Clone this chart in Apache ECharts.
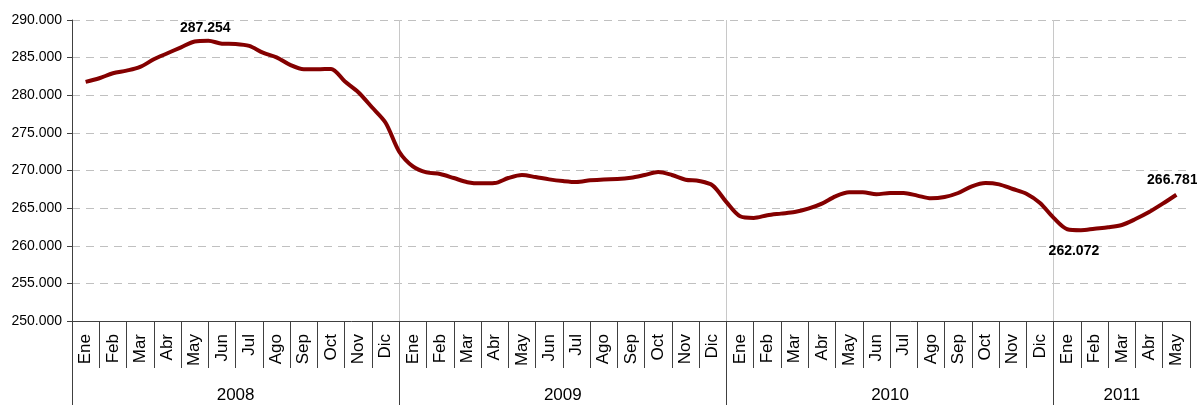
<!DOCTYPE html>
<html>
<head>
<meta charset="utf-8">
<script src="https://cdn.jsdelivr.net/npm/echarts@6/dist/echarts.min.js"></script>
<style>
  html, body { margin: 0; padding: 0; background: #fff; }
  #chart { width: 1197px; height: 405px; }
</style>
</head>
<body>
<div id="chart"></div>
<script>
// month names and years shown under the axis
var months = ['Ene', 'Feb', 'Mar', 'Abr', 'May', 'Jun', 'Jul', 'Ago', 'Sep', 'Oct', 'Nov', 'Dic']
var years = ['2008', '2009', '2010', '2011']
var monthsPerYear = [12, 12, 12, 5]

// series, one value every half month (thousands)
var values = [
  281.77, 282.26, 282.92, 283.27, 283.76, 284.78, 285.58, 286.37, 287.15, 287.254,
  286.85, 286.81, 286.55, 285.66, 285.04, 284.03, 283.45, 283.45, 283.5, 281.85,
  280.4, 278.4, 276.35, 272.5, 270.55, 269.75, 269.53, 269.0, 268.45, 268.29,
  268.33, 269.0, 269.4, 269.13, 268.82, 268.6, 268.47, 268.69, 268.82, 268.86,
  269.04, 269.4, 269.79, 269.4, 268.78, 268.6, 268.0, 265.8, 263.92, 263.7,
  264.05, 264.27, 264.49, 264.93, 265.6, 266.57, 267.1, 267.1, 266.84, 267.01,
  267.01, 266.66, 266.3, 266.48, 267.01, 267.9, 268.34, 268.16, 267.54, 266.92,
  265.68, 263.7, 262.2, 262.072, 262.27, 262.45, 262.76, 263.55, 264.48, 265.59,
  266.781
]
// which points carry a value label
var labelled = [9, 73, 80]

var yTicks = { min: 250, max: 290, step: 5 }

// month categories (one per month)
var monthCats = []
monthsPerYear.forEach(function (n) {
  for (var i = 0; i < n; i++) monthCats.push(months[i])
})

// half-month positions for the line and the year row
var halfCats = []
for (var i = 0; i <= monthCats.length * 2; i++) halfCats.push('')
var yearEdges = {}
var start = 0
monthsPerYear.forEach(function (n, i) {
  yearEdges[start * 2] = true
  halfCats[start * 2 + n] = years[i]
  start += n
})

// label placement for the peak, the low and the last point
var labelStyle = [
  { position: 'top', distance: 6, offset: [-3, 0] },
  { position: 'bottom', distance: 6, offset: [-7, 8] },
  { position: 'top', distance: 6, offset: [-4, -2] }
]

var lineData = [null]
values.forEach(function (v, i) {
  var item = { value: v }
  var pos = labelled.indexOf(i)
  if (pos >= 0) {
    item.label = Object.assign({ show: true }, labelStyle[pos])
  }
  lineData.push(item)
})
lineData.push(null)

var font = 'Arial, "Liberation Sans", sans-serif'

var chart = echarts.init(document.getElementById('chart'))
var option = {
  backgroundColor: '#fff',
  animation: false,
  grid: { left: 72, right: 7, top: 20, bottom: 84 },
  xAxis: [
    {
      type: 'category',
      data: monthCats,
      position: 'bottom',
      boundaryGap: true,
      axisLine: { show: true, lineStyle: { color: '#404040', width: 1 } },
      axisTick: { show: true, interval: 0, length: 47, lineStyle: { color: '#404040' } },
      axisLabel: {
        interval: 0,
        rotate: 90,
        margin: 13,
        color: '#000',
        fontSize: 17,
        fontFamily: font
      },
      splitLine: { show: false }
    },
    {
      type: 'category',
      data: halfCats,
      position: 'bottom',
      offset: 47,
      boundaryGap: false,
      axisLine: { show: false },
      axisTick: {
        show: true,
        length: 37,
        interval: function (idx) { return !!yearEdges[idx] },
        lineStyle: { color: '#404040' }
      },
      axisLabel: {
        interval: 0,
        margin: 19,
        color: '#000',
        fontSize: 17,
        fontFamily: font
      },
      splitLine: {
        show: true,
        interval: function (idx) { return !!yearEdges[idx] && idx > 0 },
        lineStyle: { color: '#c8c8c8', width: 1 }
      }
    }
  ],
  yAxis: {
    type: 'value',
    min: yTicks.min,
    max: yTicks.max,
    interval: yTicks.step,
    axisLine: { show: true, lineStyle: { color: '#404040' } },
    axisTick: { show: true, inside: false, length: 5, lineStyle: { color: '#404040' } },
    axisLabel: {
      margin: 10,
      color: '#000',
      fontSize: 14,
      fontFamily: font,
      formatter: function (v) { return v.toFixed(3) }
    },
    splitLine: {
      show: true,
      lineStyle: { color: '#c0c0c0', type: [8, 6], width: 1 }
    }
  },
  series: [
    {
      type: 'line',
      xAxisIndex: 1,
      data: lineData,
      smooth: 0.3,
      showSymbol: true,
      showAllSymbol: true,
      symbol: 'circle',
      symbolSize: 0,
      connectNulls: false,
      lineStyle: { color: '#840000', width: 4 },
      itemStyle: { color: '#840000' },
      label: {
        show: false,
        color: '#000',
        fontWeight: 'bold',
        fontSize: 14,
        fontFamily: font,
        formatter: function (p) { return p.value.toFixed(3) }
      }
    }
  ]
}
chart.setOption(option)
window.addEventListener('resize', function () { chart.resize() })
</script>
</body>
</html>
